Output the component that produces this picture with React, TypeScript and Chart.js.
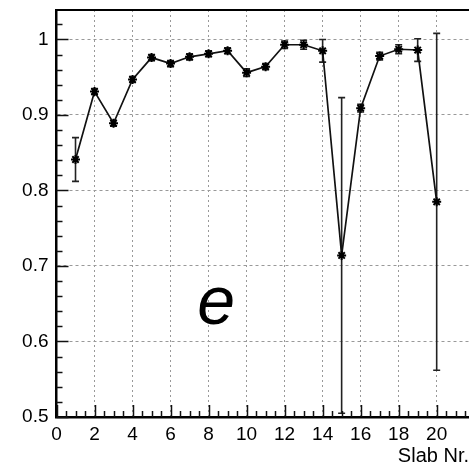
import React, { useEffect, useRef } from "react";
import { Chart, registerables } from "chart.js";
Chart.register(...registerables);

const slabs = [1, 2, 3, 4, 5, 6, 7, 8, 9, 10, 11, 12, 13, 14, 15, 16, 17, 18, 19, 20];
const efficiency = [0.841, 0.931, 0.889, 0.947, 0.976, 0.968, 0.977, 0.981, 0.985, 0.956, 0.964, 0.993, 0.993, 0.985, 0.714, 0.909, 0.978, 0.987, 0.986, 0.785];
const errors = [0.029, 0.004, 0.004, 0.004, 0.004, 0.004, 0.004, 0.004, 0.004, 0.005, 0.004, 0.005, 0.006, 0.015, 0.209, 0.005, 0.005, 0.006, 0.015, 0.223];
const xTickValues = [0, 2, 4, 6, 8, 10, 12, 14, 16, 18, 20];
const yTickValues = [0.5, 0.6, 0.7, 0.8, 0.9, 1.0];
const xAxisTitle = "Slab Nr.";
const panelLabel = "e";

const FONT = "'Liberation Sans', Arial, Helvetica, sans-serif";

const decorPlugin = {
  id: "decor",
  beforeDatasetsDraw(chart: any) {
    const { ctx, scales } = chart;
    const xs = scales.x;
    const ys = scales.y;
    ctx.save();
    ctx.strokeStyle = "#222";
    ctx.lineWidth = 1.6;
    slabs.forEach((s, i) => {
      const px = xs.getPixelForValue(s);
      const top = ys.getPixelForValue(efficiency[i] + errors[i]);
      const bot = ys.getPixelForValue(efficiency[i] - errors[i]);
      ctx.beginPath();
      ctx.moveTo(px, top);
      ctx.lineTo(px, bot);
      ctx.moveTo(px - 3.5, top);
      ctx.lineTo(px + 3.5, top);
      ctx.moveTo(px - 3.5, bot);
      ctx.lineTo(px + 3.5, bot);
      ctx.stroke();
    });
    ctx.restore();
  },
  afterDraw(chart: any) {
    const { ctx, scales, chartArea } = chart;
    const xs = scales.x;
    const ys = scales.y;
    ctx.save();
    ctx.strokeStyle = "#111";
    ctx.lineWidth = 1.5;
    for (let k = 0; k <= 27; k++) {
      const v = 0.5 + k * 0.02;
      if (v > ys.max) break;
      const py = Math.round(ys.getPixelForValue(v)) + 0.5;
      const len = k % 5 === 0 ? 12 : 6;
      ctx.beginPath();
      ctx.moveTo(chartArea.left, py);
      ctx.lineTo(chartArea.left + len, py);
      ctx.stroke();
    }
    for (let k = 0; k <= 44; k++) {
      const v = k * 0.5;
      if (v > xs.max) break;
      const px = Math.round(xs.getPixelForValue(v)) + 0.5;
      const len = k % 4 === 0 ? 12 : 6;
      ctx.beginPath();
      ctx.moveTo(px, chartArea.bottom);
      ctx.lineTo(px, chartArea.bottom - len);
      ctx.stroke();
    }
    ctx.lineWidth = 2;
    ctx.strokeStyle = "#000";
    ctx.beginPath();
    ctx.moveTo(chartArea.left, chartArea.top);
    ctx.lineTo(chartArea.right, chartArea.top);
    ctx.stroke();
    ctx.fillStyle = "#000";
    ctx.font = "italic 68px " + FONT;
    ctx.textAlign = "left";
    ctx.textBaseline = "alphabetic";
    ctx.fillText(panelLabel, xs.getPixelForValue(7.4), ys.getPixelForValue(0.623));
    ctx.restore();
  },
};

export default function App() {
  const ref = useRef<HTMLCanvasElement | null>(null);
  useEffect(() => {
    document.body.style.margin = "0";
    const canvas = ref.current!;
    const chart = new Chart(canvas, {
      type: "line",
      data: {
        datasets: [
          {
            data: slabs.map((s, i) => ({ x: s, y: efficiency[i] })),
            borderColor: "#111",
            borderWidth: 1.7,
            pointStyle: "star",
            pointRadius: 4.5,
            pointBorderWidth: 2,
            pointBorderColor: "#000",
            pointBackgroundColor: "#000",
            tension: 0,
            fill: false,
          },
        ],
      },
      options: {
        responsive: false,
        animation: false,
        events: [],
        layout: { autoPadding: false, padding: { top: 10, right: 0, left: 0, bottom: 0 } },
        plugins: { legend: { display: false }, tooltip: { enabled: false } },
        scales: {
          x: {
            type: "linear",
            min: 0,
            max: 21.7,
            afterBuildTicks: (scale: any) => {
              scale.ticks = xTickValues.map((v) => ({ value: v }));
            },
            afterFit: (scale: any) => {
              scale.height = 49;
              scale.paddingLeft = 0;
              scale.paddingRight = 0;
            },
            grid: { color: "#999", lineWidth: 1, drawTicks: false },
            border: { display: true, color: "#000", width: 2.5, dash: [2, 3] },
            ticks: {
              color: "#000",
              font: { family: FONT, size: 19 },
              padding: 6,
              maxRotation: 0,
              autoSkip: false,
              callback: (v: any) => String(v),
            },
            title: {
              display: true,
              text: xAxisTitle,
              align: "end",
              color: "#000",
              font: { family: FONT, size: 20 },
              padding: { top: 0, bottom: -2 },
            },
          },
          y: {
            type: "linear",
            min: 0.5,
            max: 1.039,
            afterBuildTicks: (scale: any) => {
              scale.ticks = yTickValues.map((v) => ({ value: v }));
            },
            afterFit: (scale: any) => {
              scale.width = 56.5;
              scale.paddingTop = 0;
              scale.paddingBottom = 0;
            },
            grid: { color: "#999", lineWidth: 1, drawTicks: false },
            border: { display: true, color: "#000", width: 2.5, dash: [3, 3] },
            ticks: {
              color: "#000",
              font: { family: FONT, size: 19 },
              padding: 8,
              callback: (v: any) => String(Number(Number(v).toFixed(2))),
            },
          },
        },
      },
      plugins: [decorPlugin],
    } as any);
    return () => chart.destroy();
  }, []);
  return (
    <div style={{ position: "absolute", left: 0, top: 0, width: 469, height: 466 }}>
      <canvas ref={ref} width={469} height={466} style={{ display: "block" }} />
    </div>
  );
}
